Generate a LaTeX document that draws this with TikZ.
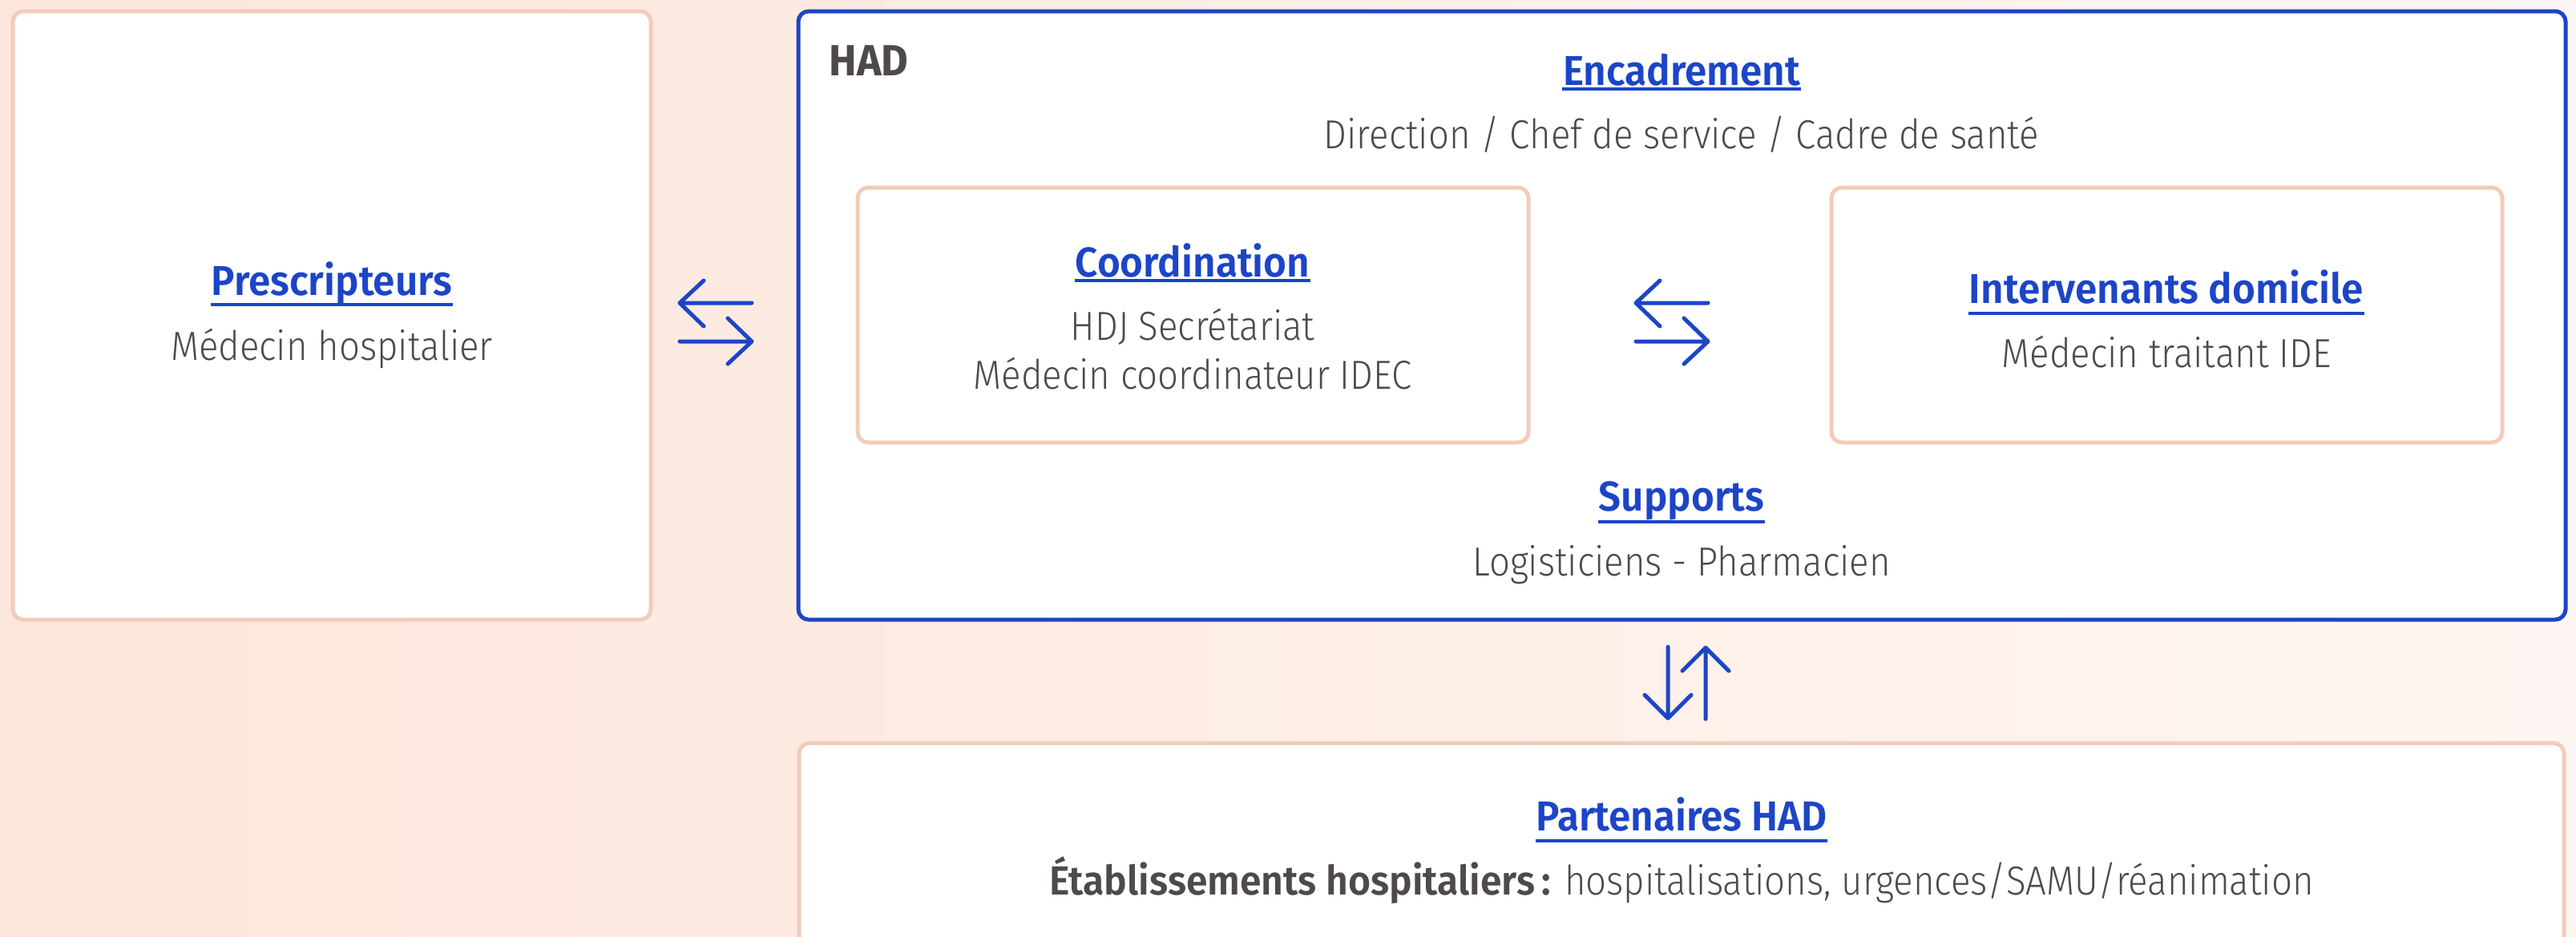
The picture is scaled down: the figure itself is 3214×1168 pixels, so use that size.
\documentclass[tikz,border=0pt]{standalone}
\usepackage{fontspec}
\usetikzlibrary{fit}
\newfontfamily\bodyfont{Fira Sans Light}[FakeStretch=0.9]
\newfontfamily\headfont{Fira Sans SemiBold}[FakeStretch=0.95]
\newfontfamily\markfont{Fira Sans Bold}[FakeStretch=0.95]
\definecolor{hadblue}{HTML}{1C45C7}
\definecolor{peach}{HTML}{F2CCBA}
\definecolor{ink}{HTML}{4E4A4A}
\definecolor{bgL}{HTML}{FDE6DB}
\definecolor{bgR}{HTML}{FEF6F2}
\tikzset{
  card/.style={draw=peach, line width=0.5mm, fill=white, rounded corners=1.3mm, inner sep=0pt},
  hadcard/.style={draw=hadblue, line width=0.5mm, fill=white, rounded corners=1.3mm, inner sep=0pt},
  headtxt/.style={text=hadblue, font=\headfont\fontsize{14.8pt}{17pt}\selectfont, anchor=base, inner sep=0pt},
  bodytxt/.style={text=ink, font=\bodyfont\fontsize{14.4pt}{17pt}\selectfont, anchor=base, inner sep=0pt},
  uline/.style={draw=hadblue, line width=0.45mm},
  flow/.style={draw=hadblue, line width=0.5mm, line cap=round, line join=round},
  swaph/.pic={
    \draw[flow] (45,-24) -- (-45,-24) (-15,-52) -- (-45,-24) -- (-15,5);
    \draw[flow] (-45,24) -- (45,24) (15,-5) -- (45,24) -- (15,52);
  },
  swapv/.pic={
    \draw[flow] (-23.5,-45) -- (-23.5,44) (-52.5,15) -- (-23.5,44) -- (5.5,15);
    \draw[flow] (23.5,45) -- (23.5,-44) (-5.5,-15) -- (23.5,-44) -- (52.5,-15);
  },
}
\begin{document}
\begin{tikzpicture}[x=0.1mm, y=-0.1mm]
\useasboundingbox (0,0) rectangle (3214,1168);
\clip (0,0) rectangle (3214,1168);
\shade[left color=bgL, right color=bgR] (0,0) rectangle (3214,1168);

% cards
\node[card, fit={(16,14) (812,773)}] (presc) {};
\node[hadcard, fit={(996,14) (3201,773)}] (had) {};
\node[card, fit={(1070,234) (1907,552)}] (coord) {};
\node[card, fit={(2285,234) (3122,552)}] (interv) {};
\node[card, fit={(997,927) (3199,1400)}] (part) {};

% Prescripteurs
\node[headtxt] (tPresc) at (414,368) {Prescripteurs};
\draw[uline] (tPresc.base west |- 0,380) -- (tPresc.base east |- 0,380);
\node[bodytxt] (bPresc) at (414,449) {Médecin hospitalier};

% HAD
\node[headtxt, text=ink, font=\markfont\fontsize{15.5pt}{17pt}\selectfont, anchor=base west] (hadlbl) at (1034,94) {HAD};
\node[headtxt] (tEnc) at (2098,106) {Encadrement};
\draw[uline] (tEnc.base west |- 0,111) -- (tEnc.base east |- 0,111);
\node[bodytxt] (bEnc) at (2098,185) {Direction / Chef de service / Cadre de santé};

\node[headtxt] (tCoord) at (1488,345) {Coordination};
\draw[uline] (tCoord.base west |- 0,350) -- (tCoord.base east |- 0,350);
\node[bodytxt] (bCoordA) at (1488,424) {HDJ Secrétariat};
\node[bodytxt] (bCoordB) at (1488,485) {Médecin coordinateur IDEC};

\node[headtxt] (tInterv) at (2703,378) {Intervenants domicile};
\draw[uline] (tInterv.base west |- 0,391) -- (tInterv.base east |- 0,391);
\node[bodytxt] (bInterv) at (2703,458) {Médecin traitant IDE};

\node[headtxt] (tSupp) at (2098,637) {Supports};
\draw[uline] (tSupp.base west |- 0,651) -- (tSupp.base east |- 0,651);
\node[bodytxt] (bSupp) at (2098,718) {Logisticiens - Pharmacien};

% Partenaires
\node[headtxt] (tPart) at (2098,1036) {Partenaires HAD};
\draw[uline] (tPart.base west |- 0,1049) -- (tPart.base east |- 0,1049);
\node[bodytxt] (bPart) at (2098,1116) {{\headfont Établissements hospitaliers\,:} hospitalisations, urgences/SAMU/réanimation};

% exchange icons
\coordinate (xPH) at (893,402);
\coordinate (xCI) at (2086,402);
\coordinate (xHP) at (2104.5,852);
\pic at (xPH) {swaph};
\pic at (xCI) {swaph};
\pic at (xHP) {swapv};
\end{tikzpicture}
\end{document}
